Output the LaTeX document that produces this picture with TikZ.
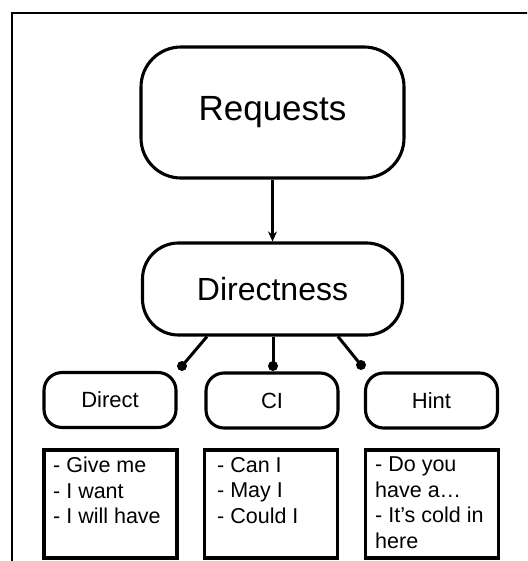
\documentclass[tikz,border=0pt]{standalone}
\usepackage{fontspec}
\setmainfont{Liberation Sans}
\usetikzlibrary{arrows.meta}
\begin{document}
\begin{tikzpicture}[x=1pt,y=-1pt,
  bigbox/.style={draw, line width=3.1pt, rounded corners=40pt, inner sep=0pt},
  catbox/.style={draw, line width=3.1pt, rounded corners=18pt, minimum width=132pt, minimum height=55pt, inner sep=0pt, font=\fontsize{22}{26}\selectfont},
  listbox/.style={draw, line width=3.1pt, minimum width=133pt, minimum height=108pt, inner sep=0pt},
  listtext/.style={anchor=north west, inner sep=0pt, align=left, font=\fontsize{21.5}{25.5}\selectfont},
  link/.style={line width=3pt},
  dot/.style={circle, fill=black, inner sep=0pt, minimum size=10pt}]
\useasboundingbox (0,0) rectangle (527,561);
\clip (0,0) rectangle (527,561);
\fill[white] (0,0) rectangle (527,561);
\draw[line width=2.7pt] (12,13) rectangle (560,600);
\node[bigbox, minimum width=263pt, minimum height=131pt, font=\fontsize{35}{40}\selectfont] (req) at (272.5,112.5) {Requests};
\node[bigbox, rounded corners=36pt, minimum width=260pt, minimum height=92pt, font=\fontsize{32}{38}\selectfont] (dir) at (272.5,289) {Directness};
\draw[link, -{Stealth[length=10pt,width=9pt]}] (req.south) -- (dir.north);
\node[catbox] (direct) at (110,400) {Direct};
\node[catbox] (ci) at (272,400.5) {CI};
\node[catbox] (hint) at (431.5,400.5) {\raisebox{-2pt}{Hint}};
\coordinate (dl) at (182,366);
\coordinate (dm) at (273,366);
\coordinate (dr) at (361,365);
\draw[link] (dir.south -| 207,0) -- (dl);
\draw[link] (dir.south -| 273,0) -- (dm);
\draw[link] (dir.south -| 338,0) -- (dr);
\node[dot] (dotl) at (dl) {};
\node[dot] (dotm) at (dm) {};
\node[dot] (dotr) at (dr) {};
\node[listbox] (dlist) at (110.5,504) {};
\node[listbox] (clist) at (271,504) {};
\node[listbox] (hlist) at (432,504) {};
\node[listtext] (dtext) at (53,457) {- Give me\\- I want\\- I will have};
\node[listtext] (ctext) at (217,457) {- Can I\\- May I\\- Could I};
\node[listtext] (htext) at (375,457) {- Do you\\have a…\\- It’s cold in\\here};
\end{tikzpicture}
\end{document}
